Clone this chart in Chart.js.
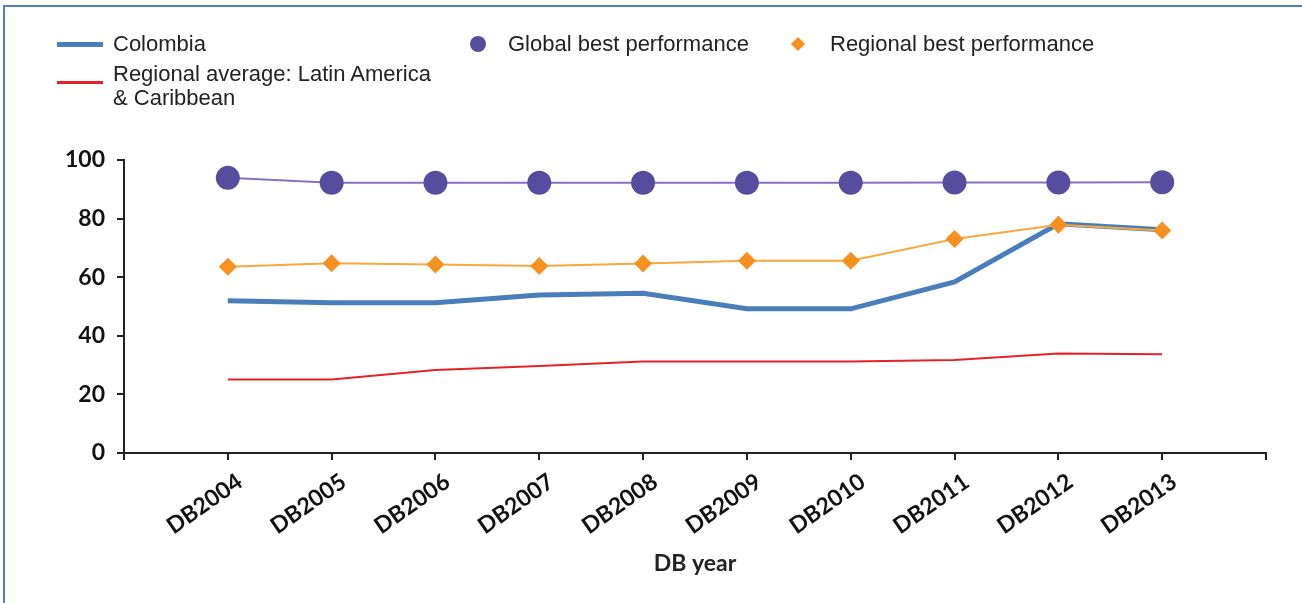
<!DOCTYPE html>
<html>
<head>
<meta charset="utf-8">
<script src="https://cdn.jsdelivr.net/npm/chart.js@4.4.0/dist/chart.umd.min.js"></script>
<style>
  body { margin: 0; background: #fff; }
  #wrap { position: relative; width: 1302px; height: 603px; overflow: hidden; }
  #frame { position: absolute; left: 3px; top: 5px; right: 0; bottom: 0;
           border-top: 2px solid #4f7fbf; border-left: 2px solid #4f7fbf; }
  .lg { position: absolute; font-family: "Liberation Sans", Arial, sans-serif;
        font-size: 22px; line-height: 24px; color: #222; white-space: nowrap; }
  .sw { position: absolute; }
</style>
</head>
<body>
<div id="wrap">
  <canvas id="line-chart"></canvas>
  <div id="frame"></div>
  <div class="sw" style="left:57px;top:42px;width:46px;height:5px;background:#4a7ebb"></div>
  <div class="lg" style="left:113px;top:32px">Colombia</div>
  <div class="sw" style="left:57px;top:81px;width:46px;height:3px;background:#e8202a"></div>
  <div class="lg" style="left:113px;top:62px">Regional average: Latin America<br>&amp; Caribbean</div>
  <div class="sw" style="left:470px;top:36px;width:16px;height:16px;border-radius:50%;background:#574d9f"></div>
  <div class="lg" style="left:508px;top:32px">Global best performance</div>
  <div class="sw" style="left:793px;top:39px;width:10px;height:10px;background:#f6901e;transform:rotate(45deg)"></div>
  <div class="lg" style="left:830px;top:32px">Regional best performance</div>
</div>
<script>
// DB years (empty slots on both ends, like the original axis)
var years = ["DB2004", "DB2005", "DB2006", "DB2007", "DB2008", "DB2009", "DB2010", "DB2011", "DB2012", "DB2013"];
var colombia = [52.0, 51.3, 51.3, 53.9, 54.5, 49.2, 49.2, 58.4, 78.2, 76.2];
var regionalAvg = [25.1, 25.1, 28.3, 29.7, 31.2, 31.2, 31.2, 31.7, 34.0, 33.7];
var globalBest = [93.9, 92.2, 92.2, 92.2, 92.2, 92.2, 92.2, 92.3, 92.3, 92.4];
var regionalBest = [63.6, 64.8, 64.3, 63.8, 64.7, 65.6, 65.6, 73.0, 77.9, 75.9];
var yTicks = [0, 20, 40, 60, 80, 100];

function pad(arr) { return [null].concat(arr, [null]); }

var tickFont = { family: "Lato", size: 23, weight: "bold" };

new Chart(document.getElementById("line-chart"), {
    type: 'line',
    data: {
        labels: [""].concat(years, [""]),
        datasets: [{
            label: "Global best performance",
            data: pad(globalBest),
            borderColor: "#8a70c0",
            backgroundColor: "#574d9f",
            borderWidth: 2,
            pointStyle: 'circle',
            pointRadius: 12,
            pointBorderWidth: 0,
            pointHoverRadius: 12,
            order: 1
        }, {
            label: "Regional best performance",
            data: pad(regionalBest),
            borderColor: "#f9a840",
            backgroundColor: "#f6901e",
            borderWidth: 2,
            pointStyle: 'rectRot',
            pointRadius: 9,
            pointBorderWidth: 0,
            pointHoverRadius: 9,
            order: 2
        }, {
            label: "Colombia",
            data: pad(colombia),
            borderColor: "#4a7ebb",
            borderWidth: 5,
            pointRadius: 0,
            order: 3
        }, {
            label: "Regional average: Latin America & Caribbean",
            data: pad(regionalAvg),
            borderColor: "#e8202a",
            borderWidth: 2,
            pointRadius: 0,
            order: 4
        }]
    },
    options: {
        responsive: true,
        maintainAspectRatio: false,
        animation: false,
        events: [],
        layout: { padding: { top: 160, right: 36, bottom: 22, left: 0 } },
        plugins: {
            legend: { display: false },
            tooltip: { enabled: false }
        },
        scales: {
            x: {
                offset: false,
                afterFit: function (s) { s.height = 128; },
                grid: { drawOnChartArea: false, drawTicks: true, tickLength: 7, color: "#222", lineWidth: 2 },
                border: { display: true, color: "#222", width: 2 },
                ticks: {
                    autoSkip: false,
                    minRotation: 35,
                    maxRotation: 35,
                    labelOffset: 12,
                    padding: 8,
                    color: "#111",
                    font: tickFont
                },
                title: {
                    display: true,
                    text: "DB year",
                    color: "#222",
                    font: { family: "Lato", size: 23, weight: "bold" }
                }
            },
            y: {
                min: 0,
                max: 100,
                afterFit: function (s) { s.width = 124; },
                afterBuildTicks: function (s) { s.ticks = yTicks.map(function (v) { return { value: v }; }); },
                grid: { drawOnChartArea: false, drawTicks: true, tickLength: 7, color: "#222", lineWidth: 2 },
                border: { display: true, color: "#222", width: 2 },
                ticks: { color: "#111", font: tickFont, padding: 12 }
            }
        }
    }
});
</script>
</body>
</html>
